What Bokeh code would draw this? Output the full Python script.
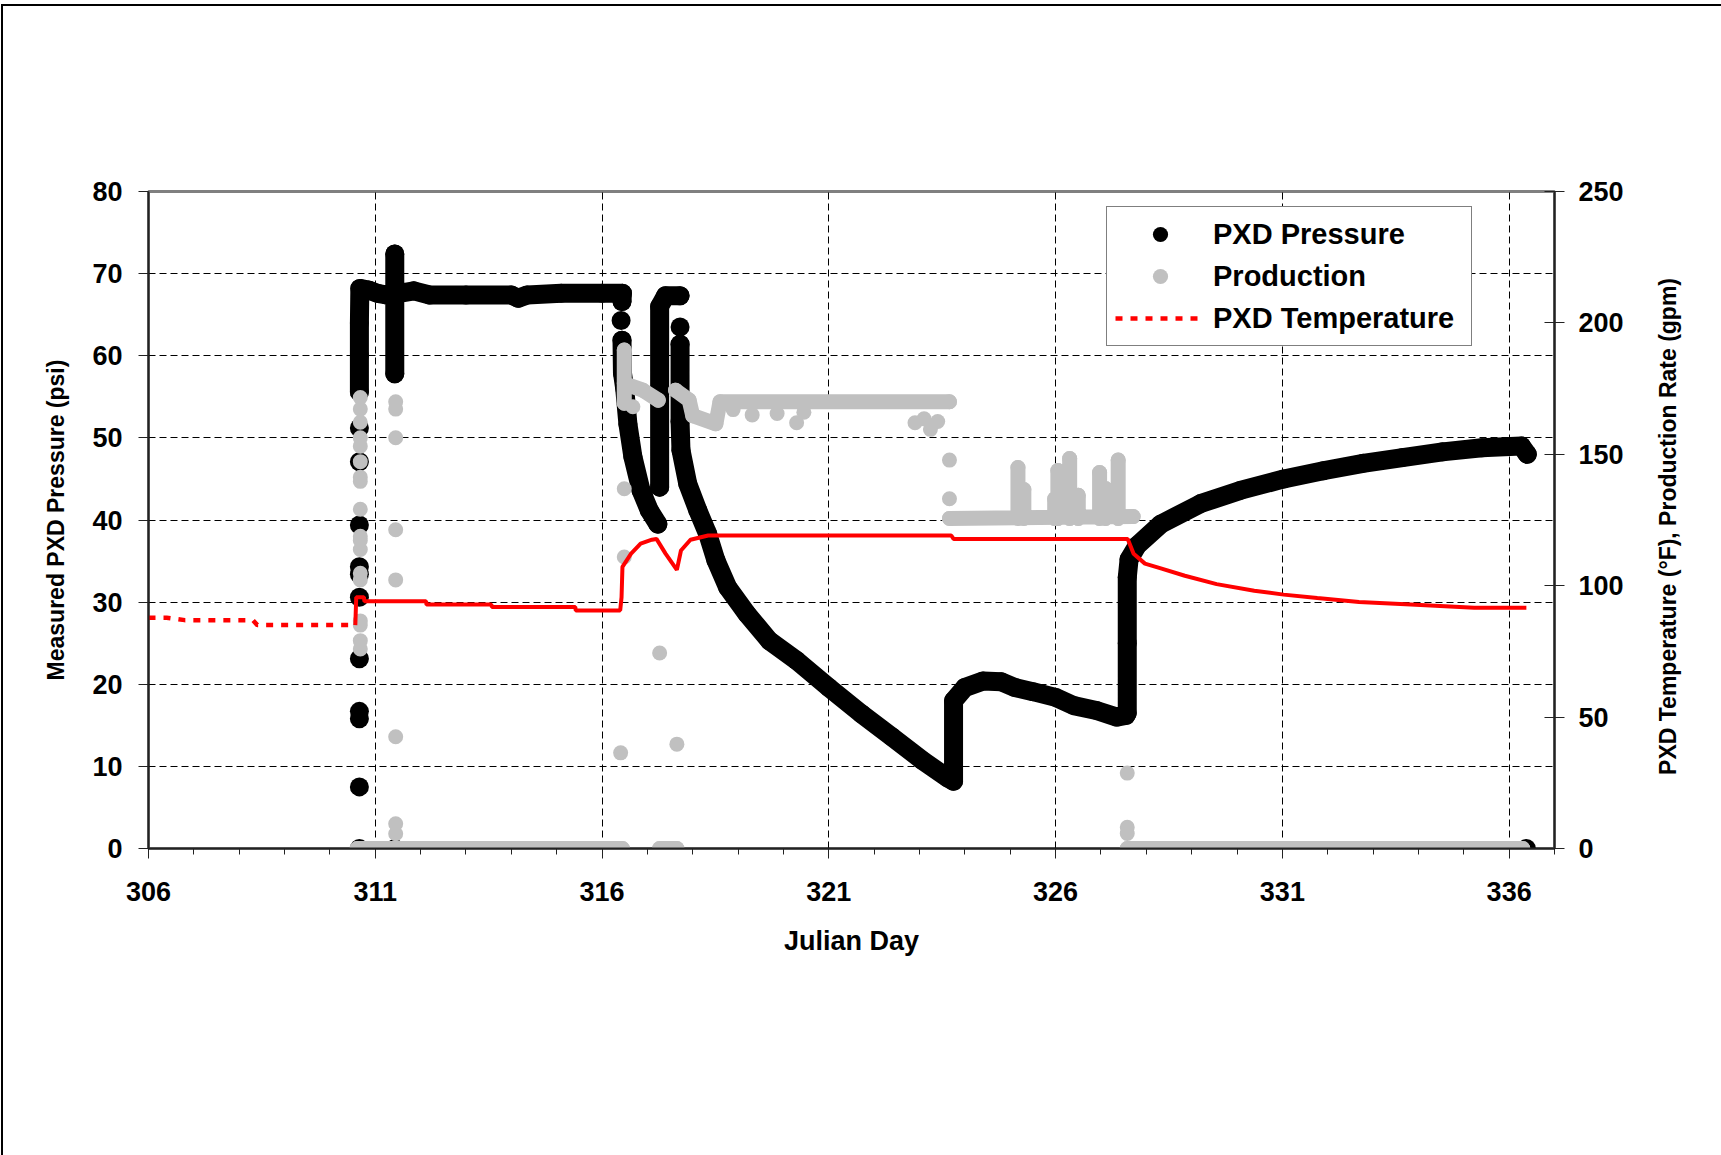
import math
from bokeh.plotting import figure
from bokeh.models import Range1d, LinearAxis, FixedTicker, Legend, LegendItem
from bokeh.embed import file_html
from bokeh.resources import INLINE

nan = float("nan")

# ---------------- data ----------------
day_ticks = [306, 311, 316, 321, 326, 331, 336]
day_minor_ticks = list(range(306, 338))
psi_ticks = [0, 10, 20, 30, 40, 50, 60, 70, 80]
right_ticks = [0, 50, 100, 150, 200, 250]

# PXD pressure (psi): continuous logger trace, NaN separates traces
pressure_day = [310.65, 310.65, 310.65, 310.66, 310.85, 311.05, 311.25, 311.43, 311.43, 311.43, 311.43,
                311.85, 312.2, 313.0, 314.0, 314.15, 314.35, 315.1, 316.0, 316.45, 316.44, nan,
                316.44, 316.45, 316.5, 316.57, 316.68, 316.86, 317.04, 317.23, nan,
                317.27, 317.27, 317.27, 317.4, 317.72, nan,
                317.72, 317.72, 317.74, 317.89, 318.11, 318.33, 318.51, 318.77, 319.19, 319.69, 320.29,
                321.0, 321.72, 322.39, 323.07, 323.62, 323.75, 323.75, 324.0, 324.4, 324.8, 325.1,
                325.5, 326.0, 326.4, 326.9, 327.35, 327.55, 327.58, 327.58, 327.58, 327.62, 327.8,
                328.32, 329.2, 330.07, 331.03, 331.9, 332.78, 333.65, 334.53, 335.4, 336.27, 336.4]
pressure_psi = [55.6, 60.0, 64.0, 68.2, 68.0, 67.6, 67.4, 67.4, 72.4, 57.8, 67.5,
                67.9, 67.4, 67.4, 67.4, 67.0, 67.4, 67.6, 67.6, 67.6, 66.6, nan,
                61.9, 57.9, 56.0, 51.7, 47.7, 43.6, 41.2, 39.5, nan,
                44.0, 55.0, 66.0, 67.3, 67.3, nan,
                61.4, 52.0, 48.5, 44.4, 41.2, 38.3, 35.1, 31.8, 28.6, 25.3, 22.9,
                19.6, 16.4, 13.6, 10.7, 8.6, 8.2, 18.0, 19.6, 20.4, 20.3, 19.6,
                19.1, 18.4, 17.4, 16.8, 16.0, 16.2, 16.5, 25.0, 33.0, 35.2, 36.9,
                39.5, 42.0, 43.6, 45.0, 46.0, 46.9, 47.6, 48.3, 48.8, 49.0, 48.0]

# isolated PXD pressure readings (psi)
pressure_spot_day = [310.65] * 11 + [311.43, 316.42, 317.72, 336.38]
pressure_spot_psi = [51.2, 47.1, 39.4, 34.3, 33.4, 30.6, 23.1, 16.7, 15.8, 7.5, 0.0,
                     0.0, 64.3, 63.5, 0.0]

# production rate (gpm): continuous traces, NaN separates traces
production_day = [310.6, 316.45, nan, 317.27, 317.65, nan, 327.58, 336.3, nan,
                  316.49, 316.49, 316.49, 316.9, 317.24, nan,
                  317.62, 317.92, 318.0, 318.51, 318.6, 323.66, nan,
                  323.66, 327.71, nan,
                  325.17, 325.17, nan, 325.3, 325.3, nan,
                  325.98, 325.98, nan, 326.05, 326.05, nan, 326.31, 326.31, nan, 326.5, 326.5, nan,
                  326.97, 326.97, nan, 327.1, 327.1, nan, 327.38, 327.38]
production_gpm = [0, 0, nan, 0, 0, nan, 0, 0, nan,
                  189.7, 169.4, 176.9, 174.4, 170.6, nan,
                  174.4, 170.6, 164.7, 161.6, 170.0, 170.0, nan,
                  125.6, 126.3, nan,
                  125.6, 145.0, nan, 125.6, 136.6, nan,
                  125.6, 133.1, nan, 125.6, 143.8, nan, 125.6, 148.4, nan, 125.6, 134.4, nan,
                  125.6, 143.1, nan, 125.6, 137.0, nan, 125.6, 147.8]

# isolated production readings (gpm)
production_spot_day = ([310.67] * 18 + [311.45] * 8 +
                       [316.49, 316.49, 316.41, 316.68, 317.27, 317.65, 323.66, 323.66,
                        327.58, 327.58, 327.58,
                        318.89, 319.31, 319.86, 320.29, 320.45, 322.9, 323.1, 323.24, 323.4])
production_spot_gpm = [171.6, 167.2, 162.2, 156.3, 153.1, 147.2, 141.3, 139.7, 129.1, 118.8,
                       117.2, 113.8, 104.7, 102.2, 86.6, 85.0, 79.1, 75.9,
                       170.0, 167.2, 156.3, 121.3, 102.2, 42.5, 9.4, 5.6,
                       136.9, 110.9, 36.4, 168.1, 74.4, 39.7, 147.8, 133.1,
                       28.7, 8.1, 5.7,
                       167.0, 165.0, 165.5, 162.0, 166.0, 162.0, 163.5, 159.5, 162.5]

# PXD temperature (F): before installation (dotted) and logged (solid)
temp_pre_day = [306.0, 306.4, 306.8, 308.3, 308.4, 310.5]
temp_pre_f = [87.8, 87.8, 86.9, 86.9, 85.0, 85.0]
temp_day = [310.56, 310.58, 310.75, 310.76, 312.12, 312.13, 313.56, 313.57, 315.41, 315.42,
            316.40, 316.43, 316.45, 316.64, 316.85, 317.10, 317.20, 317.40, 317.65, 317.74,
            317.95, 318.34, 323.70, 323.75, 327.59, 327.72, 327.97, 328.32, 328.85, 329.55,
            330.38, 331.03, 331.77, 332.69, 333.83, 335.23, 336.38]
temp_f = [85.0, 95.6, 95.6, 94.1, 94.1, 92.8, 92.8, 91.9, 91.9, 90.6,
          90.6, 95.6, 107.2, 112.2, 116.0, 117.5, 117.8, 112.2, 106.0, 113.4,
          117.5, 119.1, 119.1, 117.8, 117.8, 112.2, 108.4, 106.6, 103.8, 100.6,
          98.1, 96.6, 95.3, 93.8, 92.8, 91.6, 91.6]

right_title = "PXD Temperature (\u00b0F), Production Rate (gpm)"

# ---------------- figure ----------------
FONT = "Liberation Sans"
BLACK = "#000000"
GRAY = "#C0C0C0"
RED = "#FF0000"

p = figure(frame_width=1406, frame_height=657,
           x_range=Range1d(306, 337), y_range=Range1d(0, 80),
           output_backend="svg", toolbar_location=None,
           min_border_left=145, min_border_right=167, min_border_top=185, min_border_bottom=307,
           background_fill_color="white", border_fill_color="white")
p.styles = {"border-top": "2px solid black", "border-left": "2px solid black",
            "margin-top": "4px", "margin-left": "1px"}
p.extra_y_ranges = {"right": Range1d(0, 250)}

p.outline_line_color = "#808080"
p.outline_line_width = 3

# axes
xa = p.xaxis[0]
xa.ticker = FixedTicker(ticks=day_ticks, minor_ticks=day_minor_ticks)
xa.axis_label = "Julian Day"
ya = p.yaxis[0]
ya.ticker = FixedTicker(ticks=psi_ticks)
ya.axis_label = "Measured PXD Pressure (psi)"
ra = LinearAxis(y_range_name="right", ticker=FixedTicker(ticks=right_ticks))
p.add_layout(ra, "right")

for ax in (xa, ya, ra):
    ax.major_label_text_font = FONT
    ax.major_label_text_font_style = "bold"
    ax.major_label_text_font_size = "27px"
    ax.major_label_text_color = BLACK
    ax.axis_label_text_font = FONT
    ax.axis_label_text_font_style = "bold"
    ax.axis_label_text_color = BLACK
    ax.axis_line_color = "#222222"
    ax.axis_line_width = 2
    ax.major_tick_line_color = "#222222"
    ax.major_tick_line_width = 1
    ax.major_tick_out = 10
    ax.major_tick_in = 0
xa.axis_label_text_font_size = "27px"
ya.axis_label_text_font_size = "23px"
xa.minor_tick_out = 6
xa.minor_tick_in = 0
xa.minor_tick_line_color = "#222222"
ya.minor_tick_line_color = None
ra.minor_tick_line_color = None
ra.major_tick_in = 10
xa.major_label_standoff = 23
ya.major_label_standoff = 16
ra.major_label_standoff = 14
xa.axis_label_standoff = 22
ya.axis_label_standoff = 20

# right axis title: reads bottom-to-top, drawn as the single rotated label of a bare axis
TITLE_START = 28  # value on the right scale where the rotated title begins
title_axis = LinearAxis(y_range_name="right", ticker=FixedTicker(ticks=[TITLE_START]),
                        major_label_overrides={TITLE_START: right_title},
                        major_label_orientation=math.pi / 2,
                        axis_line_color=None, major_tick_line_color=None,
                        minor_tick_line_color=None,
                        major_tick_in=0, major_tick_out=0,
                        major_label_standoff=42,
                        major_label_text_font=FONT, major_label_text_font_style="bold",
                        major_label_text_font_size="23px", major_label_text_color=BLACK)
p.add_layout(title_axis, "right")

# grids
p.xgrid.ticker = FixedTicker(ticks=day_ticks[1:])
p.ygrid.ticker = FixedTicker(ticks=psi_ticks[1:-1])
for g in (p.xgrid[0], p.ygrid[0]):
    g.grid_line_color = BLACK
    g.grid_line_width = 1
    g.grid_line_dash = "7 4"

# pressure
p.line(pressure_day, pressure_psi, line_color=BLACK, line_width=19,
       line_cap="round", line_join="round")
p.scatter(pressure_day, pressure_psi, size=19, fill_color=BLACK, line_color=None)
r_press = p.scatter(pressure_spot_day, pressure_spot_psi, size=19, fill_color=BLACK, line_color=None)

# production
p.line(production_day, production_gpm, line_color=GRAY, line_width=15,
       line_cap="round", line_join="round", y_range_name="right")
p.scatter(production_day, production_gpm, size=15, fill_color=GRAY, line_color=None,
          y_range_name="right")
r_prod = p.scatter(production_spot_day, production_spot_gpm, size=15, fill_color=GRAY,
                   line_color=None, y_range_name="right")

# temperature
r_temp = p.line(temp_pre_day, temp_pre_f, line_color=RED, line_width=4.5, line_dash="7 8",
                y_range_name="right")
p.line(temp_day, temp_f, line_color=RED, line_width=4, y_range_name="right")

legend = Legend(items=[LegendItem(label="PXD Pressure", renderers=[r_press]),
                       LegendItem(label="Production", renderers=[r_prod]),
                       LegendItem(label="PXD Temperature", renderers=[r_temp])],
                location=(958, 502))
legend.margin = 0
legend.padding = 8
legend.spacing = 4
legend.glyph_width = 90
legend.glyph_height = 38
legend.label_width = 250
legend.label_standoff = 8
legend.label_text_font = FONT
legend.label_text_font_style = "bold"
legend.label_text_font_size = "29px"
legend.label_text_color = BLACK
legend.border_line_color = BLACK
legend.border_line_width = 1
legend.background_fill_color = "white"
legend.background_fill_alpha = 1.0
p.add_layout(legend, "center")

open("out.html", "w").write(file_html(p, INLINE))
